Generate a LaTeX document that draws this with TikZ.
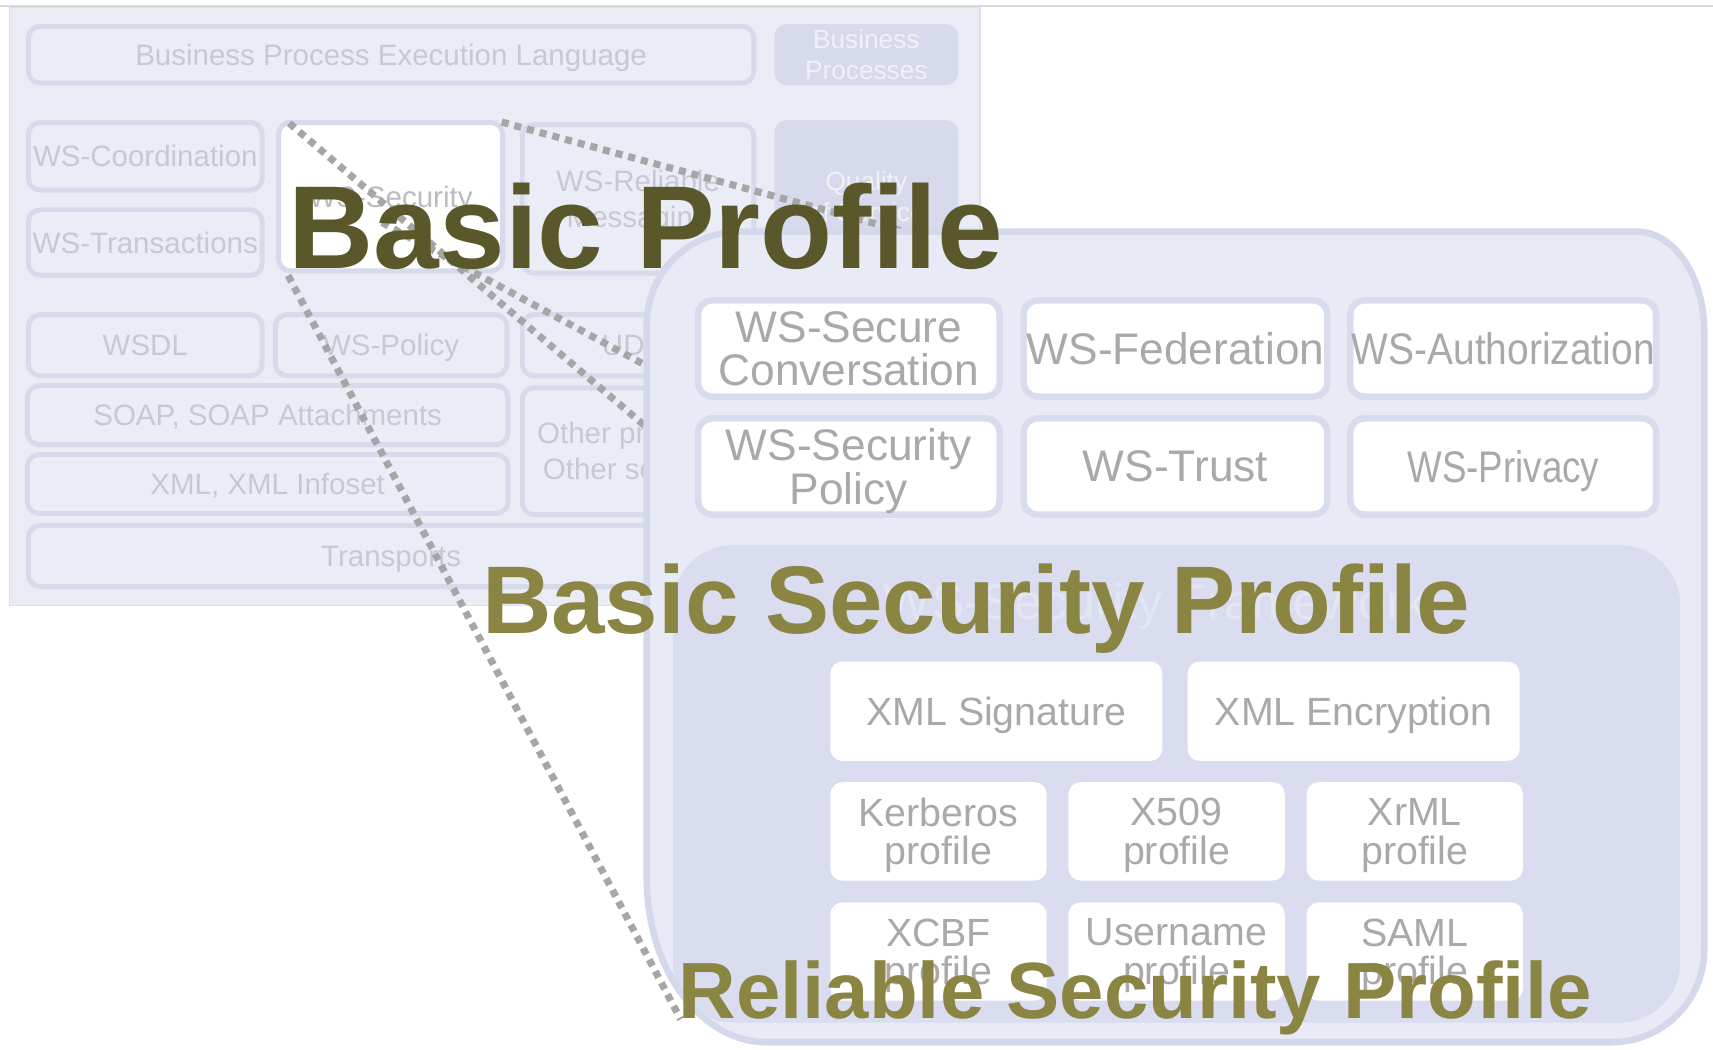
\documentclass[tikz,border=0pt]{standalone}
\usepackage{fontspec}
\setmainfont{Liberation Sans}
\usetikzlibrary{calc}

\definecolor{rulegray}{HTML}{D8D8DD}
\definecolor{stackbg}{HTML}{E9EBF5}
\definecolor{stackedge}{HTML}{DCDFEC}
\definecolor{cellfill}{HTML}{EBEDF6}
\definecolor{celledge}{HTML}{D7DAEA}
\definecolor{celltext}{HTML}{C6C9D3}
\definecolor{shadefill}{HTML}{D6DAEC}
\definecolor{shadetext}{HTML}{F0F2F8}
\definecolor{sectext}{HTML}{BBBBC0}
\definecolor{dotgray}{HTML}{A6A6A6}
\definecolor{zoombg}{HTML}{E8EAF5}
\definecolor{zoomedge}{HTML}{D4D8EB}
\definecolor{framebg}{HTML}{D9DDEF}
\definecolor{frametext}{HTML}{E3E6F3}
\definecolor{specedge}{HTML}{D9DCEC}
\definecolor{spectext}{HTML}{A9A9A9}
\definecolor{olivedark}{HTML}{5A582A}
\definecolor{olive}{HTML}{8A8543}

% horizontally narrowed label
\newcommand{\narrow}[2]{\scalebox{#1}[1]{#2}}

\begin{document}
\begin{tikzpicture}[x=1pt,y=-1pt,
  stack/.style={draw=stackedge, line width=1pt, fill=stackbg, inner sep=0pt},
  cell/.style={draw=celledge, line width=4.5pt, fill=cellfill, rounded corners=11pt,
    inner sep=0pt, text=celltext, align=center, text depth=0pt,
    font=\fontsize{27pt}{33pt}\selectfont},
  shade/.style={cell, draw=none, fill=shadefill, text=shadetext,
    font=\fontsize{24pt}{28pt}\selectfont},
  zoomline/.style={draw=dotgray, line width=6.5pt, dash pattern=on 6.5pt off 5.5pt},
  zoomfill/.style={fill=zoombg},
  zoomborder/.style={draw=zoomedge, line width=6pt},
  framepanel/.style={draw=none, fill=framebg, rounded corners=55pt, inner sep=0pt},
  frametxt/.style={text=frametext, inner sep=0pt, font=\fontsize{46pt}{46pt}\selectfont},
  spec/.style={draw=specedge, line width=6pt, fill=white, rounded corners=13pt,
    inner sep=0pt, text=spectext, align=center, text depth=0pt,
    font=\fontsize{40.5pt}{40pt}\selectfont},
  token/.style={draw=none, fill=white, rounded corners=11pt, inner sep=0pt,
    text=spectext, align=center, text depth=0pt,
    font=\fontsize{36pt}{35pt}\selectfont},
  headline/.style={anchor=base west, inner sep=0pt}
]
% page
\useasboundingbox (0,0) rectangle (1568,961);
\fill[white] (0,0) rectangle (1568,961);
\draw[rulegray, line width=1.2pt] (0,5.5) -- (1568,5.5);

% web services protocol stack
\node[stack, minimum width=888pt, minimum height=547pt] (stackpanel) at (453,280.5) {};
\node[cell, minimum width=664pt, minimum height=52pt] (bpel) at (358,50) {Business Process Execution Language};
\node[shade, minimum width=168pt, minimum height=56pt] (bproc) at (793,50) {Business\\Processes};
\node[cell, minimum width=214pt, minimum height=62pt] (coord) at (133,143) {WS-Coordination};
\node[cell, minimum width=214pt, minimum height=60pt] (trans) at (133,222) {WS-Transactions};
\node[cell, fill=white, text=sectext, minimum width=205pt, minimum height=136pt] (sec) at (357.5,180) {WS-Security};
\node[cell, minimum width=212pt, minimum height=136pt] (rel) at (584,182) {WS-Reliable\\Messaging};
\node[shade, minimum width=168pt, minimum height=140pt] (qos) at (793,180) {Quality\\of Service};
\node[cell, minimum width=214pt, minimum height=56pt] (wsdl) at (133,316) {WSDL};
\node[cell, minimum width=212pt, minimum height=56pt] (pol) at (358,316) {WS-Policy};
\node[cell, minimum width=212pt, minimum height=56pt] (uddi) at (584,316) {UDDI};
\node[cell, minimum width=440pt, minimum height=54pt] (soap) at (245,380) {SOAP, SOAP Attachments};
\node[cell, minimum width=440pt, minimum height=54pt] (xml) at (245,443) {XML, XML Infoset};
\node[cell, minimum width=212pt, minimum height=116pt] (other) at (584,413) {Other protocols\\Other services};
\node[cell, minimum width=664pt, minimum height=56pt] (transp) at (358,509) {Transports};

% zoom lines from the WS-Security cell
\coordinate (zA) at ($(sec.north west)+(12,3)$);
\coordinate (zB) at ($(sec.north west)+(97,94)$);
\coordinate (zC) at ($(sec.north east)+(-3,2)$);
\coordinate (zD) at ($(sec.south west)+(11,2)$);
\coordinate (eA) at (600,398);
\coordinate (eB) at (605,342);
\coordinate (eC) at (850,218);
\coordinate (eD) at (623,933);
\draw[zoomline] (zA) -- (eA);
\draw[zoomline] (zB) -- (eB);
\draw[zoomline] (zC) -- (eC);
\draw[zoomline] (zD) -- (eD);

% enlarged security stack: outline with unequal corner rounding
\def\zoomoutline{(677,212) -- (1498,212)
  .. controls (1532.2,212) and (1560,252.2) .. (1560,304)
  -- (1560,869)
  .. controls (1560,916) and (1522,954) .. (1475,954)
  -- (702,954)
  .. controls (641.2,954) and (592,886.8) .. (592,804)
  -- (592,297)
  .. controls (592,250) and (630,212) .. (677,212) -- cycle}
\path[zoomfill] \zoomoutline;
\node[framepanel, minimum width=922pt, minimum height=437pt] (fw) at (1077,717.5) {};
\path[zoomborder] \zoomoutline;

\node[spec, minimum width=276pt, minimum height=88pt] (conv) at (777,319) {WS-Secure\\Conversation};
\node[spec, minimum width=278pt, minimum height=88pt] (fed) at (1076,319) {WS-Federation};
\node[spec, minimum width=280pt, minimum height=88pt] (authz) at (1376,319) {\narrow{0.88}{WS-Authorization}};
\node[spec, minimum width=276pt, minimum height=88pt] (secpol) at (777,427) {WS-Security\\Policy};
\node[spec, minimum width=278pt, minimum height=88pt] (trust) at (1076,427) {WS-Trust};
\node[spec, minimum width=280pt, minimum height=88pt] (priv) at (1376,427) {\narrow{0.83}{WS-Privacy}};

\node[frametxt] (fwt) at (1058,555) {WS-Security Framework};
\node[token, minimum width=304pt, minimum height=91pt] (sig) at (912,651) {XML Signature};
\node[token, minimum width=304pt, minimum height=91pt] (enc) at (1239,651) {XML Encryption};
\node[token, minimum width=198pt, minimum height=90pt] (kerb) at (859,761) {Kerberos\\profile};
\node[token, minimum width=198pt, minimum height=90pt] (xfive) at (1077,761) {X509\\profile};
\node[token, minimum width=198pt, minimum height=90pt] (xrml) at (1295,761) {XrML\\profile};
\node[token, minimum width=198pt, minimum height=90pt] (xcbf) at (859,871) {XCBF\\profile};
\node[token, minimum width=198pt, minimum height=90pt] (user) at (1077,871) {Username\\profile};
\node[token, minimum width=198pt, minimum height=90pt] (saml) at (1295,871) {SAML\\profile};

% profile titles
\node[headline, text=olivedark, font=\bfseries\fontsize{108pt}{108pt}\selectfont] (bp) at (264,246) {Basic Profile};
\node[headline, text=olive, font=\bfseries\fontsize{88pt}{88pt}\selectfont] (bsp) at (441,580) {Basic Security Profile};
\node[headline, text=olive, font=\bfseries\fontsize{73pt}{73pt}\selectfont] (rsp) at (621,932) {Reliable Security Profile};
\end{tikzpicture}
\end{document}
